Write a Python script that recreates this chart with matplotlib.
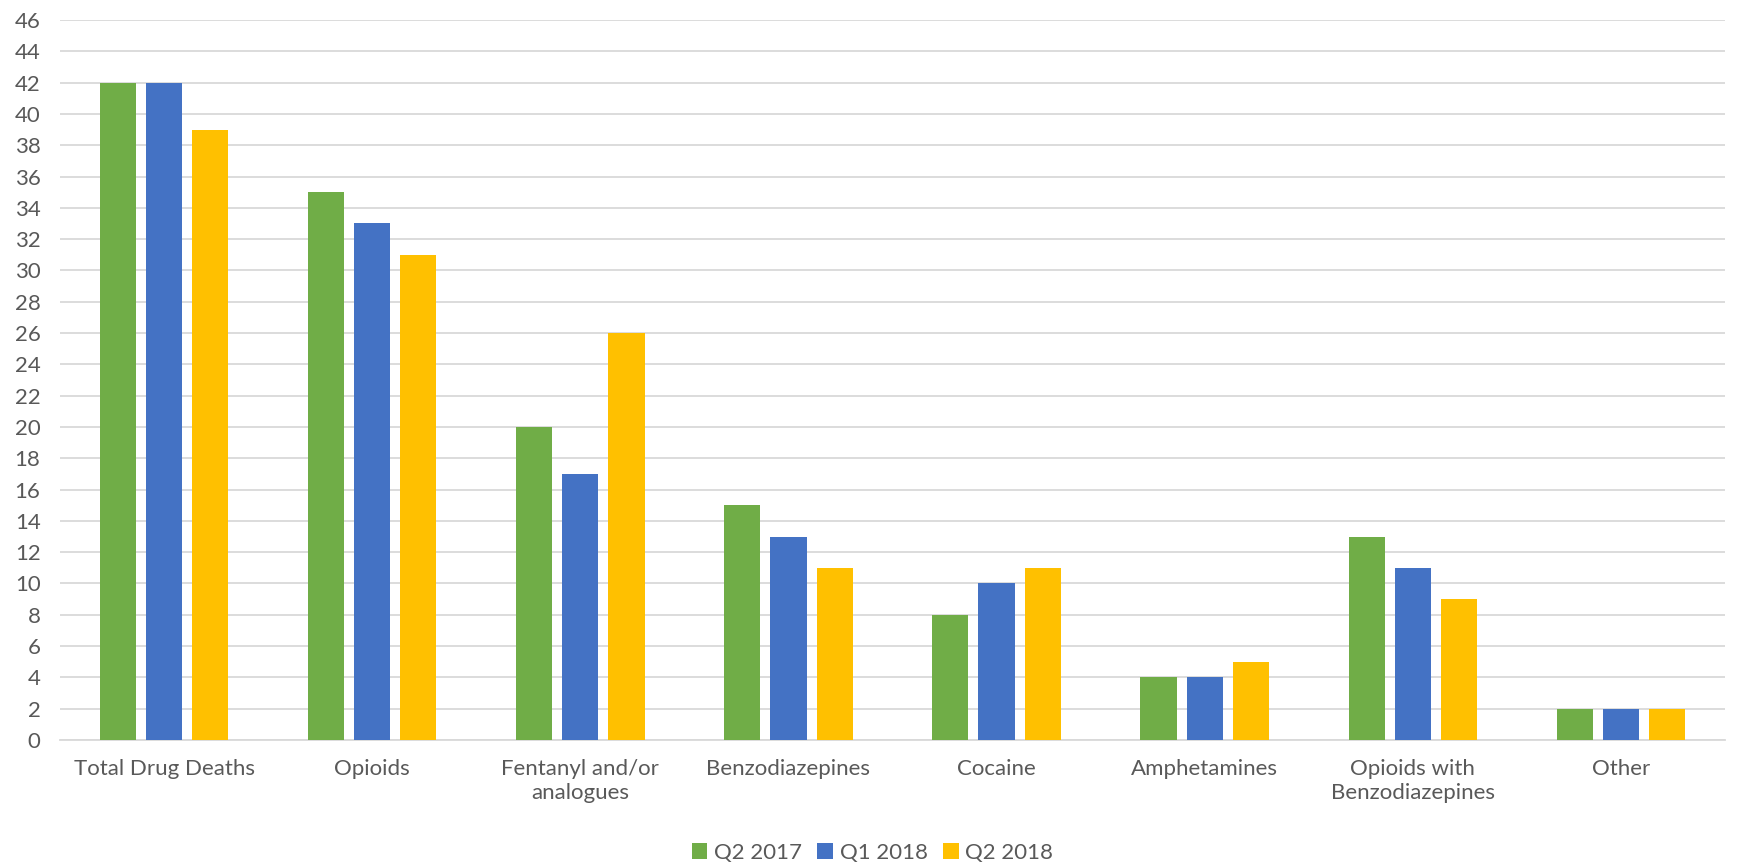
import matplotlib.pyplot as plt
import numpy as np

categories = ["Total Drug Deaths", "Opioids", "Fentanyl and/or\nanalogues", "Benzodiazepines",
              "Cocaine", "Amphetamines", "Opioids with\nBenzodiazepines", "Other"]
q2_2017 = [42, 35, 20, 15, 8, 4, 13, 2]
q1_2018 = [42, 33, 17, 13, 10, 4, 11, 2]
q2_2018 = [39, 31, 26, 11, 11, 5, 9, 2]
series_names = ["Q2 2017", "Q1 2018", "Q2 2018"]
colors = ["#70AD47", "#4472C4", "#FFC000"]

plt.rcParams['font.family'] = ['Lato', 'DejaVu Sans']
text_color = "#595959"

fig = plt.figure(figsize=(17.45, 8.66), dpi=100)
ax = fig.add_axes([60 / 1745, 1 - 740 / 866, 1665 / 1745, 720 / 866])

x = np.arange(len(categories))
width = 0.174
offset = 0.222
for i, (vals, name, c) in enumerate(zip([q2_2017, q1_2018, q2_2018], series_names, colors)):
    ax.bar(x + (i - 1) * offset, vals, width, color=c, label=name, zorder=3)

ax.set_xlim(-0.5, len(categories) - 0.5)
ax.set_ylim(0, 46)
ax.set_yticks(range(0, 47, 2))
ax.set_xticks(x)
ax.set_xticklabels(categories, linespacing=1.2)
ax.grid(axis="y", color="#D9D9D9", linewidth=1.3, zorder=0)
for s in ["top", "right", "left"]:
    ax.spines[s].set_visible(False)
ax.spines["bottom"].set_color("#D9D9D9")
ax.spines["bottom"].set_linewidth(1.3)
ax.tick_params(axis="both", length=0, labelsize=16, colors=text_color)
ax.tick_params(axis="x", pad=14)
ax.tick_params(axis="y", pad=14)

leg = ax.legend(loc="center", bbox_to_anchor=(0.5, 1 - 853 / 866), bbox_transform=fig.transFigure,
                ncol=3, frameon=False, fontsize=16, handlelength=0.7, handleheight=0.7,
                handletextpad=0.3, columnspacing=0.7)
for t in leg.get_texts():
    t.set_color(text_color)

fig.savefig("out.png", dpi=100)
